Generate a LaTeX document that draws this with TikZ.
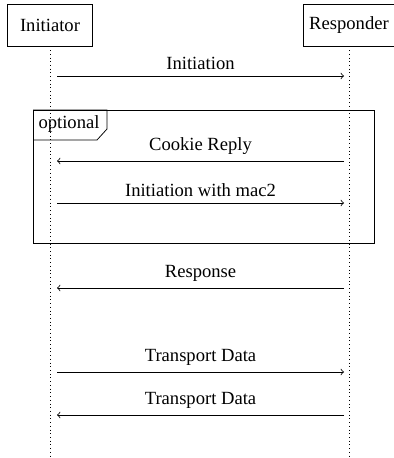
\documentclass[tikz,border=0pt]{standalone}
\usepackage{fontspec}
\setmainfont{Liberation Serif}
\usetikzlibrary{positioning}

\begin{document}
\begin{tikzpicture}[x=0.5376pt,y=-0.5376pt,
  actor/.style={draw,minimum height=22.6pt,inner sep=3pt},
  lifeline/.style={dash pattern=on 0.4pt off 1.6pt},
  msg/.style={->},
  lbl/.style={above}]
\useasboundingbox (0,0) rectangle (393,458);
\node[actor,minimum width=45.7pt] (ini) at (50,25){Initiator};
\node[actor,minimum width=46.8pt] (resp) at (349,25){Responder};
\coordinate (iniend) at (50,458);
\coordinate (respend) at (349,458);
\draw[lifeline] (ini) -- (iniend);
\draw[lifeline] (resp) -- (respend);
% optional frame
\draw (33,110) rectangle (374,243);
\draw (33,110)--(107,110)--(107,129)--(97,140)--(33,140);
\node (opt) at (69,124){optional};
% messages
\coordinate (a1) at (57,76);
\coordinate (b1) at (344,76);
\draw[msg] (a1) -- node[lbl]{Initiation} (b1);
\coordinate (a2) at (57,161);
\coordinate (b2) at (344,161);
\draw[msg] (b2) -- node[lbl]{Cookie Reply} (a2);
\coordinate (a3) at (57,203);
\coordinate (b3) at (344,203);
\draw[msg] (a3) -- node[lbl]{Initiation with mac2} (b3);
\coordinate (a4) at (57,288);
\coordinate (b4) at (344,288);
\draw[msg] (b4) -- node[lbl]{Response} (a4);
\coordinate (a5) at (57,372);
\coordinate (b5) at (344,372);
\draw[msg] (a5) -- node[lbl]{Transport Data} (b5);
\coordinate (a6) at (57,415);
\coordinate (b6) at (344,415);
\draw[msg] (b6) -- node[lbl]{Transport Data} (a6);
\end{tikzpicture}
\end{document}
